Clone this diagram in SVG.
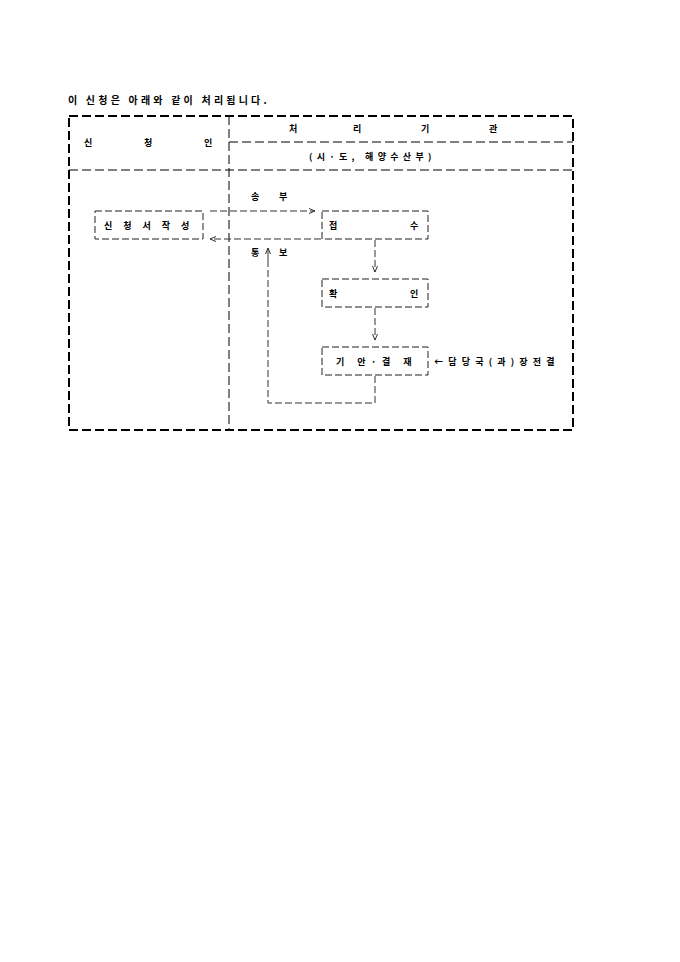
<svg xmlns="http://www.w3.org/2000/svg" width="680" height="962" viewBox="0 0 680 962">
<style>
text{font-family:"Noto Sans CJK KR","Noto Sans",sans-serif;font-size:9px;font-weight:bold;fill:#000}
.thick{stroke:#000;stroke-width:2;stroke-dasharray:9 4;fill:none}
.thin{stroke:#000;stroke-width:1;stroke-dasharray:9 4;fill:none}
.box{stroke:#222;stroke-width:1;stroke-dasharray:7 3;fill:none}
.conn{stroke:#333;stroke-width:1;stroke-dasharray:7 3;fill:none}
.solid{stroke:#333;stroke-width:1;fill:none}
</style>
<defs>
<marker id="ah" markerWidth="8" markerHeight="8" refX="7" refY="4" orient="auto" markerUnits="userSpaceOnUse">
<path d="M1,1.5 L7,4 L1,6.5" fill="none" stroke="#333" stroke-width="1"/>
</marker>
</defs>
<rect width="680" height="962" fill="#fff"/>
<text id="title" x="68" y="104" style="font-size:10px;letter-spacing:3.2px">이 신청은 아래와 같이 처리됩니다.</text>
<g id="frame">
<path class="thick" d="M69,116 H573 V430 H69 Z"/>
<path class="thin" d="M229,116 V430"/>
<path class="thin" d="M229,142 H573"/>
<path class="thin" d="M69,170 H573"/>
<text x="84" y="146">신</text>
<text x="144" y="146">청</text>
<text x="204" y="146">인</text>
<text x="289" y="132">처</text>
<text x="353" y="132">리</text>
<text x="421" y="132">기</text>
<text x="489" y="132">관</text>
<text x="309" y="160" style="letter-spacing:4.3px">(시·도, 해양수산부)</text>
</g>
<g id="connectors">
<path class="conn" d="M210,211 H315" marker-end="url(#ah)"/>
<path class="conn" d="M321,239 H210" marker-end="url(#ah)"/>
<path class="conn" d="M375,240 V272" marker-end="url(#ah)"/>
<path class="conn" d="M375,308 V340" marker-end="url(#ah)"/>
<path class="conn" d="M375,376 V403 H268 V260"/>
<path class="solid" d="M268,260 V248" marker-end="url(#ah)"/>
<text x="251" y="200">송</text>
<text x="279" y="200">부</text>
<text x="251" y="256">통</text>
<text x="279" y="256">보</text>
</g>
<g id="n1">
<rect class="box" x="95" y="211" width="108" height="28"/>
<text x="104" y="229" style="letter-spacing:11px">신청서작성</text>
</g>
<g id="n2">
<rect class="box" x="322" y="211" width="106" height="28"/>
<text x="329" y="229">접</text>
<text x="410" y="229">수</text>
</g>
<g id="n3">
<rect class="box" x="322" y="279" width="106" height="28"/>
<text x="329" y="297">확</text>
<text x="410" y="297">인</text>
</g>
<g id="n4">
<rect class="box" x="322" y="347" width="106" height="28"/>
<text x="336" y="365" style="letter-spacing:5.5px">기 안·결 재</text>
</g>
<text id="note" x="434" y="365" style="letter-spacing:5.2px">←담당국(과)장전결</text>
</svg>
